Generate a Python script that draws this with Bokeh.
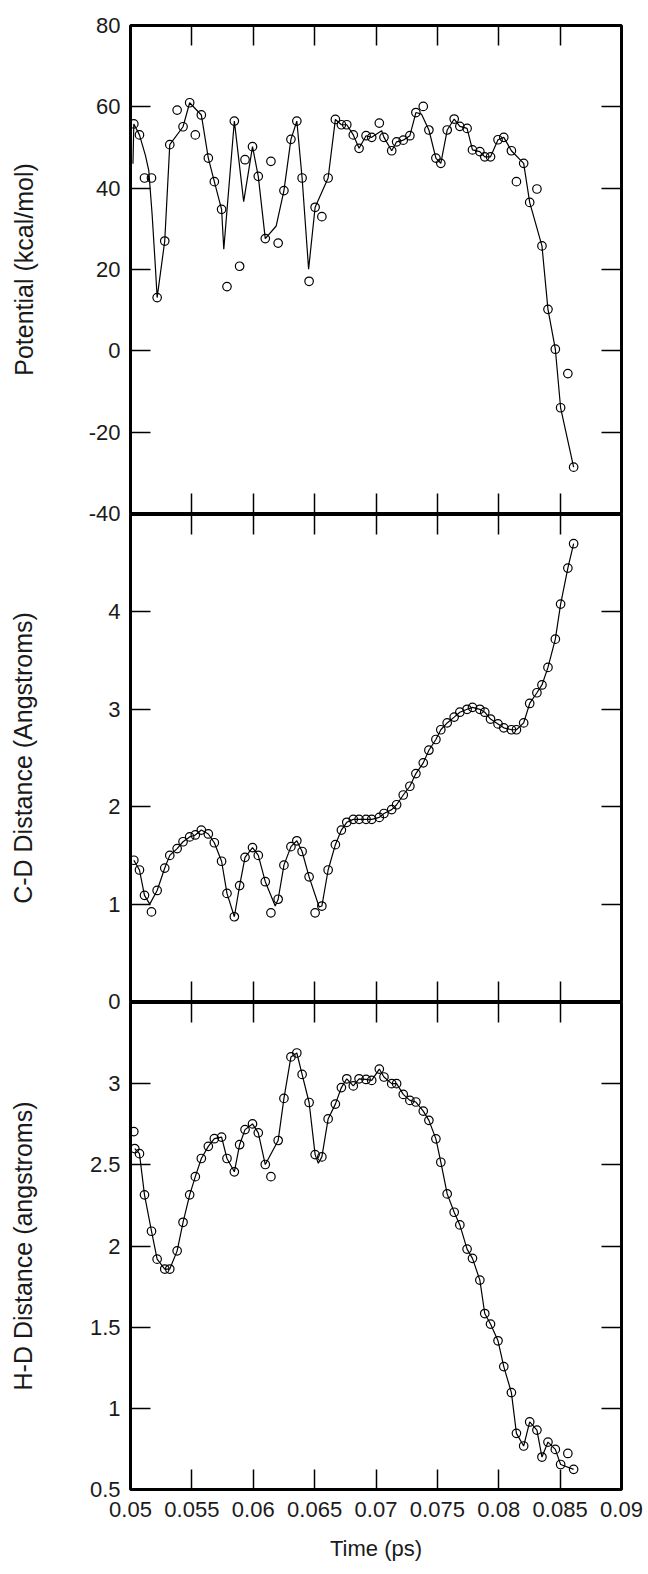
from bokeh.plotting import figure
from bokeh.models import LinearAxis, FixedTicker, CustomJSTickFormatter
from bokeh.layouts import column
from bokeh.embed import file_html
from bokeh.resources import INLINE

# ---------------- data ----------------
time_ps = [0.05027, 0.05073, 0.05114, 0.05171, 0.05217, 0.05279, 0.05320, 0.05380, 0.05428, 0.05482,
           0.05528, 0.05577, 0.05634, 0.05683, 0.05742, 0.05786, 0.05846, 0.05889, 0.05933, 0.05994,
           0.06041, 0.06098, 0.06144, 0.06203, 0.06250, 0.06307, 0.06355, 0.06398, 0.06455, 0.06504,
           0.06559, 0.06610, 0.06669, 0.06718, 0.06762, 0.06815, 0.06862, 0.06919, 0.06965, 0.07027,
           0.07065, 0.07128, 0.07168, 0.07222, 0.07276, 0.07325, 0.07385, 0.07431, 0.07488, 0.07528,
           0.07580, 0.07637, 0.07683, 0.07742, 0.07786, 0.07846, 0.07886, 0.07933, 0.07994, 0.08041,
           0.08103, 0.08144, 0.08203, 0.08252, 0.08311, 0.08352, 0.08401, 0.08461, 0.08504, 0.08563,
           0.08610]

potential = [55.8, 53.1, 42.5, 42.5, 13.1, 27.0, 50.7, 59.2, 55.1, 61.0,
             53.1, 58.0, 47.4, 41.6, 34.8, 15.8, 56.5, 20.8, 47.0, 50.2,
             42.9, 27.6, 46.6, 26.5, 39.4, 52.0, 56.5, 42.5, 17.1, 35.3,
             33.0, 42.5, 56.9, 55.6, 55.6, 53.1, 49.8, 52.9, 52.5, 56.0,
             52.5, 49.2, 51.4, 51.8, 52.9, 58.6, 60.1, 54.3, 47.4, 46.1,
             54.3, 57.0, 55.2, 54.7, 49.4, 49.0, 47.7, 47.7, 51.9, 52.5,
             49.2, 41.6, 46.1, 36.5, 39.8, 25.8, 10.2, 0.4, -14.0, -5.6,
             -28.6]

cd_distance = [1.45, 1.35, 1.09, 0.92, 1.14, 1.37, 1.50, 1.57, 1.64, 1.69,
               1.71, 1.76, 1.72, 1.63, 1.44, 1.11, 0.87, 1.19, 1.48, 1.58,
               1.50, 1.23, 0.91, 1.05, 1.40, 1.59, 1.65, 1.54, 1.28, 0.91,
               0.98, 1.35, 1.61, 1.76, 1.84, 1.87, 1.87, 1.87, 1.87, 1.89,
               1.93, 1.97, 2.02, 2.12, 2.21, 2.34, 2.45, 2.58, 2.69, 2.79,
               2.86, 2.92, 2.97, 3.00, 3.02, 3.00, 2.97, 2.90, 2.85, 2.81,
               2.79, 2.79, 2.86, 3.06, 3.17, 3.25, 3.43, 3.72, 4.08, 4.45,
               4.70]

hd_distance = [2.705, 2.569, 2.315, 2.091, 1.919, 1.858, 1.858, 1.970, 2.146, 2.315,
               2.427, 2.539, 2.614, 2.661, 2.671, 2.539, 2.457, 2.624, 2.717, 2.752,
               2.697, 2.502, 2.427, 2.650, 2.909, 3.165, 3.189, 3.057, 2.884, 2.563,
               2.549, 2.783, 2.874, 2.976, 3.030, 2.986, 3.030, 3.026, 3.020, 3.090,
               3.041, 3.000, 3.000, 2.934, 2.897, 2.887, 2.831, 2.774, 2.660, 2.516,
               2.321, 2.208, 2.130, 1.981, 1.924, 1.790, 1.584, 1.519, 1.416, 1.257,
               1.097, 0.846, 0.768, 0.916, 0.866, 0.700, 0.792, 0.747, 0.654, 0.722,
               0.624]

# one extra H-D sample right at the start of the trace
hd_extra_t = [0.05035]
hd_extra_v = [2.600]

# smoothed connecting curves: points the curve skips, and extra curve vertices
pot_off_curve = [2, 3, 7, 10, 15, 17, 18, 22, 23, 28, 30, 39, 46, 61, 64, 69]
pot_curve_t = [0.05020, 0.05122, 0.05149, 0.05176, 0.05203, 0.05760, 0.05922, 0.06187, 0.06451, 0.07046, 0.07371]
pot_curve_v = [46.0, 48.0, 44.3, 33.6, 20.5, 25.0, 36.7, 30.7, 20.1, 54.1, 58.2]

cd_off_curve = [3, 22, 29]
cd_curve_t = [0.05157, 0.06179, 0.06537]
cd_curve_v = [1.00, 0.98, 0.97]

hd_off_curve = [0, 22, 69]
hd_curve_t = [0.05035, 0.06530]
hd_curve_v = [2.60, 2.51]

x_ticks = [0.05, 0.055, 0.06, 0.065, 0.07, 0.075, 0.08, 0.085, 0.09]
pot_ticks = [-40, -20, 0, 20, 40, 60, 80]
cd_ticks = [0, 1, 2, 3, 4]
hd_ticks = [0.5, 1, 1.5, 2, 2.5, 3]

# ---------------- drawing ----------------
FONT = "Liberation Sans"
TXT = "#1a1a1a"
TICK_FS = "22px"
TITLE_FS = "25px"
num_fmt = "return String(+tick.toFixed(4));"
blank_fmt = "return '';"


def build_curve(vals, off_idx, extra_t, extra_v):
    pts = [(t, v) for i, (t, v) in enumerate(zip(time_ps, vals)) if i not in off_idx]
    pts += list(zip(extra_t, extra_v))
    pts.sort()
    return [a for a, _ in pts], [b for _, b in pts]


def style_hidden(ax, ticks):
    ax.ticker = FixedTicker(ticks=ticks)
    ax.formatter = CustomJSTickFormatter(code=blank_fmt)
    ax.major_label_text_font_size = "0px"
    ax.major_label_standoff = 0
    ax.major_tick_in = 20
    ax.major_tick_out = 0
    ax.major_tick_line_width = 1.5
    ax.major_tick_line_color = "black"
    ax.minor_tick_line_color = None
    ax.axis_line_color = None


def make_panel(vals, curve, yr, yticks, ylabel, ylabel_standoff, top_b, bot_b, fh, margin, bottom_labels):
    p = figure(frame_width=491, frame_height=fh, x_range=(0.05, 0.09), y_range=yr,
               output_backend="svg", toolbar_location=None,
               min_border_left=130, min_border_right=27,
               min_border_top=top_b, min_border_bottom=bot_b, margin=margin)
    p.background_fill_alpha = 0
    p.border_fill_alpha = 0
    p.outline_line_color = "black"
    p.outline_line_width = 3
    p.grid.visible = False

    ya = p.yaxis[0]
    ya.ticker = FixedTicker(ticks=yticks)
    ya.formatter = CustomJSTickFormatter(code=num_fmt)
    ya.major_tick_in = 20
    ya.major_tick_out = 0
    ya.major_tick_line_width = 1.5
    ya.minor_tick_line_color = None
    ya.axis_line_color = None
    ya.major_label_standoff = 10
    ya.major_label_text_font = FONT
    ya.major_label_text_font_size = TICK_FS
    ya.major_label_text_color = TXT
    ya.axis_label = ylabel
    ya.axis_label_text_font = FONT
    ya.axis_label_text_font_size = TITLE_FS
    ya.axis_label_text_font_style = "normal"
    ya.axis_label_text_color = TXT
    ya.axis_label_standoff = ylabel_standoff

    xa = p.xaxis[0]
    if bottom_labels:
        xa.ticker = FixedTicker(ticks=x_ticks)
        xa.formatter = CustomJSTickFormatter(code=num_fmt)
        xa.major_tick_in = 20
        xa.major_tick_out = 0
        xa.major_tick_line_width = 1.5
        xa.minor_tick_line_color = None
        xa.axis_line_color = None
        xa.major_label_standoff = 12
        xa.major_label_text_font = FONT
        xa.major_label_text_font_size = TICK_FS
        xa.major_label_text_color = TXT
        xa.axis_label = "Time (ps)"
        xa.axis_label_text_font = FONT
        xa.axis_label_text_font_size = "22px"
        xa.axis_label_text_font_style = "normal"
        xa.axis_label_text_color = TXT
        xa.axis_label_standoff = 16
    else:
        style_hidden(xa, x_ticks)

    top_ax = LinearAxis()
    style_hidden(top_ax, x_ticks)
    p.add_layout(top_ax, "above")
    right_ax = LinearAxis()
    style_hidden(right_ax, yticks)
    p.add_layout(right_ax, "right")

    p.line(curve[0], curve[1], line_color="black", line_width=1.2)
    p.scatter(time_ps, vals, marker="circle", size=8.5, fill_color=None,
              line_color="black", line_width=1.2)
    return p


p1 = make_panel(potential, build_curve(potential, pot_off_curve, pot_curve_t, pot_curve_v),
                (-40, 80), pot_ticks, "Potential (kcal/mol)", 48, 25, 12, 488, (0, 0, 0, 0), False)
p2 = make_panel(cd_distance, build_curve(cd_distance, cd_off_curve, cd_curve_t, cd_curve_v),
                (0, 5), cd_ticks, "C-D Distance (Angstroms)", 68, 1, 12, 487, (-12, 0, 0, 0), False)
p3 = make_panel(hd_distance, build_curve(hd_distance, hd_off_curve, hd_curve_t, hd_curve_v),
                (0.5, 3.5), hd_ticks, "H-D Distance (angstroms)", 50, 1, 85, 487, (-12, 0, 0, 0), True)
p3.scatter(hd_extra_t, hd_extra_v, marker="circle", size=8.5, fill_color=None,
           line_color="black", line_width=1.2)

layout = column(p1, p2, p3, spacing=0)
open("out.html", "w").write(file_html(layout, INLINE))
